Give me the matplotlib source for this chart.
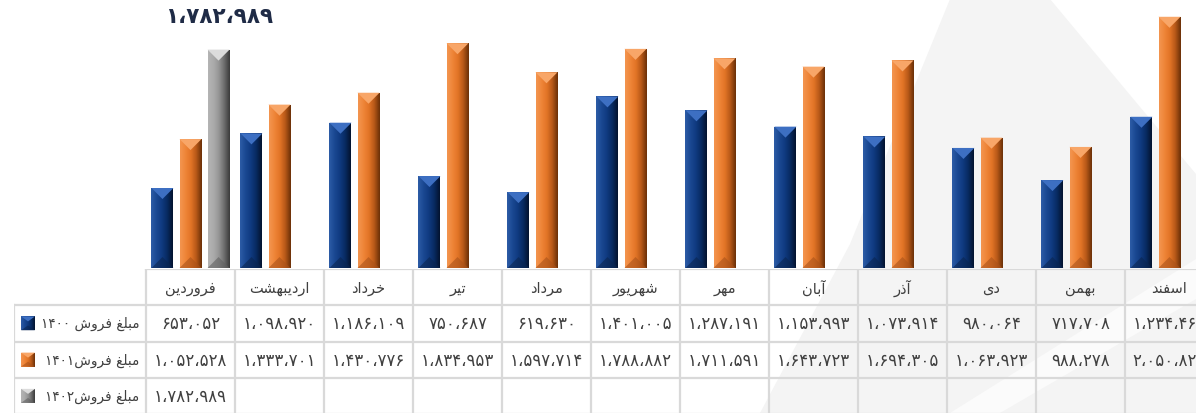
import re
import numpy as np
import matplotlib
matplotlib.use('Agg')
import matplotlib.pyplot as plt
from matplotlib.colors import LinearSegmentedColormap
from matplotlib.patches import Polygon, Rectangle

MONTHS = ['فروردین', 'اردیبهشت', 'خرداد', 'تیر', 'مرداد', 'شهریور',
          'مهر', 'آبان', 'آذر', 'دی', 'بهمن', 'اسفند']
SALES_1400 = [653052, 1098920, 1186109, 750687, 619630, 1401005,
              1287191, 1153993, 1073914, 980064, 717708, 1234461]
SALES_1401 = [1052528, 1333701, 1430776, 1834953, 1597714, 1788882,
              1711591, 1643723, 1694305, 1063923, 988278, 2050821]
SALES_1402 = [1782989]
SERIES_NAMES = ['مبلغ فروش ۱۴۰۰', 'مبلغ فروش۱۴۰۱', 'مبلغ فروش۱۴۰۲']

# (base gradient left->right, top bevel, bottom bevel)
STYLES = [
    (['#2d5ca6', '#1a4892', '#0f3a80', '#082a60', '#03132e'], '#3d6fc2', '#0a2550'),
    (['#f39550', '#ef8538', '#e27426', '#b65818', '#6a3008'], '#f8a668', '#a9521a'),
    (['#b4b4b4', '#ababab', '#959595', '#6c6c6c', '#3a3a3a'], '#dcdcdc', '#606060'),
]

plt.rcParams['font.family'] = ['DejaVu Sans']

FORMS = {
    'ا': ('\uFE8D', '\uFE8E', None, None),
    'آ': ('\uFE81', '\uFE82', None, None),
    'ب': ('\uFE8F', '\uFE90', '\uFE91', '\uFE92'),
    'ت': ('\uFE95', '\uFE96', '\uFE97', '\uFE98'),
    'خ': ('\uFEA5', '\uFEA6', '\uFEA7', '\uFEA8'),
    'د': ('\uFEA9', '\uFEAA', None, None),
    'ذ': ('\uFEAB', '\uFEAC', None, None),
    'ر': ('\uFEAD', '\uFEAE', None, None),
    'س': ('\uFEB1', '\uFEB2', '\uFEB3', '\uFEB4'),
    'ش': ('\uFEB5', '\uFEB6', '\uFEB7', '\uFEB8'),
    'غ': ('\uFECD', '\uFECE', '\uFECF', '\uFED0'),
    'ف': ('\uFED1', '\uFED2', '\uFED3', '\uFED4'),
    'ل': ('\uFEDD', '\uFEDE', '\uFEDF', '\uFEE0'),
    'م': ('\uFEE1', '\uFEE2', '\uFEE3', '\uFEE4'),
    'ن': ('\uFEE5', '\uFEE6', '\uFEE7', '\uFEE8'),
    'ه': ('\uFEE9', '\uFEEA', '\uFEEB', '\uFEEC'),
    'و': ('\uFEED', '\uFEEE', None, None),
    'ی': ('\uFBFC', '\uFBFD', '\uFBFE', '\uFBFF'),
}
FA_DIGITS = '۰۱۲۳۴۵۶۷۸۹'


def shape(word):
    # pick contextual presentation forms, matplotlib does no arabic shaping
    out = []
    for i, c in enumerate(word):
        f = FORMS.get(c)
        if f is None:
            out.append(c)
            continue
        prev = word[i - 1] if i > 0 else ''
        nxt = word[i + 1] if i + 1 < len(word) else ''
        jp = prev in FORMS and FORMS[prev][2] is not None
        jn = f[2] is not None and nxt in FORMS
        out.append(f[3] if jp and jn else f[1] if jp else f[2] if jn else f[0])
    return ''.join(out)


def visual(s):
    parts = re.findall('[' + FA_DIGITS + ']+|[^' + FA_DIGITS + ']+', s)
    parts = [p if p[0] in FA_DIGITS else shape(p)[::-1] for p in parts]
    return ''.join(reversed(parts))


def fa_num(v):
    s = f'{v:,}'.replace(',', '،')
    return ''.join(FA_DIGITS[int(c)] if c.isdigit() else c for c in s)


def bevel_box(ax, x0, y0, w, h, style, bev):
    grad_cols, top_col, bot_col = style
    cmap = LinearSegmentedColormap.from_list('g', grad_cols)
    rect = Rectangle((x0, y0), w, h, facecolor=grad_cols[2], edgecolor='none', zorder=2)
    ax.add_patch(rect)
    im = ax.imshow(np.linspace(0, 1, 64).reshape(1, -1), cmap=cmap, aspect='auto',
                   extent=(x0, x0 + w, y0, y0 + h), interpolation='bicubic', zorder=3)
    im.set_clip_path(rect)
    top = y0 + h
    ax.add_patch(Polygon([(x0, top), (x0 + w, top), (x0 + w / 2, top - bev)],
                         facecolor=top_col, edgecolor='none', zorder=4))
    ax.add_patch(Polygon([(x0, y0), (x0 + w, y0), (x0 + w / 2, y0 + bev)],
                         facecolor=bot_col, edgecolor='none', alpha=0.6, zorder=4))


W, H = 1196, 414
fig = plt.figure(figsize=(W / 100, H / 100), dpi=100)
fig.patch.set_facecolor('white')

# faint watermark shape in the background
bg = fig.add_axes([0, 0, 1, 1], zorder=-1)
bg.set_xlim(0, W)
bg.set_ylim(H, 0)
bg.axis('off')
bg.add_patch(Polygon([(950, 0), (1050, 0), (1196, 175), (1196, 414), (760, 414), (850, 245)],
                     facecolor='#f4f4f4', edgecolor='none'))
bg.add_patch(Polygon([(1196, 260), (1196, 300), (1000, 414), (950, 414)],
                     facecolor='#fbfbfb', edgecolor='none'))

col_px = 89
ax = fig.add_axes([146 / W, (H - 269) / H, 12 * col_px / W, 269 / H])
ax.set_xlim(-0.5, 11.5)
ax.set_ylim(0, 2.196e6)
ax.axis('off')

x = np.arange(len(MONTHS))
bw = 0.247
step = 0.315
series = [SALES_1400, SALES_1401, SALES_1402]
inv = ax.transData.inverted()
bev = inv.transform((0, 11))[1] - inv.transform((0, 0))[1]
for k, vals in enumerate(series):
    bars = ax.bar(x[:len(vals)] + (k - 1) * step, vals, bw, color='none', zorder=1)
    for b in bars:
        bevel_box(ax, b.get_x(), 0, b.get_width(), b.get_height(), STYLES[k], bev)

top_bar = max(range(len(SALES_1402)), key=lambda i: SALES_1402[i])
ax.annotate(fa_num(SALES_1402[top_bar]), xy=(x[top_bar] + step, SALES_1402[top_bar]),
            xytext=(1, 34), textcoords='offset pixels', ha='center', va='center',
            fontsize=15.5, fontweight='bold', color='#1f2b46')

# data table under the bars
leg_w = (146 - 14) / col_px
row_h = 36.25
tax = fig.add_axes([14 / W, 0, (146 - 14 + 12 * col_px) / W, 144 / H])
tax.patch.set_alpha(0)
tax.set_xlim(-0.5 - leg_w, 11.5)
tax.set_ylim(144 / row_h, 0)
tax.axis('off')

line_kw = dict(color='#d9d9d9', lw=1.6, zorder=1)
n_rows = len(series) + 1
tax.plot([-0.5, 11.5], [0, 0], **line_kw)
for r in range(1, n_rows + 1):
    tax.plot([-0.5 - leg_w, 11.5], [r, r], **line_kw)
tax.plot([-0.5 - leg_w] * 2, [1, n_rows], **line_kw)
for c in range(len(MONTHS) + 1):
    tax.plot([c - 0.5] * 2, [0, n_rows], **line_kw)

for i, m in enumerate(MONTHS):
    tax.text(i, 0.5, visual(m), ha='center', va='center', fontsize=10.5, color='#404040')
for k, vals in enumerate(series):
    for i, v in enumerate(vals):
        tax.text(i, k + 1.5, fa_num(v), ha='center', va='center', fontsize=12,
                 color='#404040')
    tax.text(-0.575, k + 1.5, visual(SERIES_NAMES[k]), ha='right', va='center',
             fontsize=9.8, color='#404040')
    sq_w = 14 / col_px
    sq_h = 14 / row_h
    # y axis inverted here: bottom edge has the larger value
    bevel_box(tax, -0.5 - leg_w + 7 / col_px, k + 1.5 + sq_h / 2, sq_w, -sq_h,
              STYLES[k], -5 / row_h)

tax.set_xlim(-0.5 - leg_w, 11.5)
tax.set_ylim(144 / row_h, 0)

fig.savefig('out.png', dpi=100, facecolor=fig.get_facecolor())
